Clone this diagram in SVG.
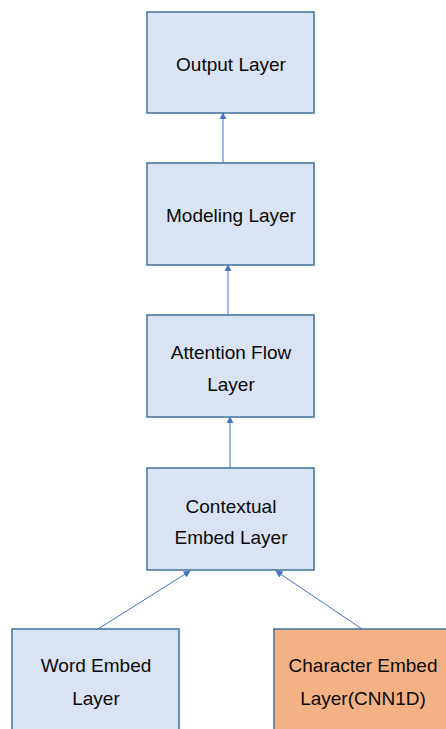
<svg xmlns="http://www.w3.org/2000/svg" width="446" height="729" viewBox="0 0 446 729">
<style>
.box{fill:#DAE3F3;stroke:#41719C;stroke-width:1.5}
.orange{fill:#F4B183;stroke:#41719C;stroke-width:1.5}
.t{font-family:"Liberation Sans",Arial,sans-serif;font-size:19px;fill:#0a0a0a;text-anchor:middle}
.c{stroke:#4472C4;stroke-width:1;fill:none;marker-end:url(#a)}
</style>
<defs>
<marker id="a" viewBox="0 0 10 10" refX="9" refY="5" markerWidth="7" markerHeight="7" markerUnits="userSpaceOnUse" orient="auto">
<path d="M0,0 L10,5 L0,10 z" fill="#4472C4"/>
</marker>
</defs>
<rect width="446" height="729" fill="#fff"/>
<g id="connectors">
<line class="c" x1="223" y1="163" x2="223" y2="113"/>
<line class="c" x1="228" y1="315" x2="228" y2="265"/>
<line class="c" x1="230" y1="468" x2="230" y2="417"/>
<line class="c" x1="98" y1="629" x2="190" y2="571"/>
<line class="c" x1="362" y1="629" x2="276" y2="571"/>
</g>
<g id="output">
<rect class="box" x="147" y="12" width="167" height="101"/>
<text class="t" x="231" y="71">Output Layer</text>
</g>
<g id="modeling">
<rect class="box" x="147" y="163" width="167" height="102"/>
<text class="t" x="231" y="222">Modeling Layer</text>
</g>
<g id="attention">
<rect class="box" x="147" y="315" width="167" height="102"/>
<text class="t" x="231" y="359">Attention Flow</text>
<text class="t" x="231" y="391">Layer</text>
</g>
<g id="contextual">
<rect class="box" x="147" y="468" width="167" height="102"/>
<text class="t" x="231" y="513">Contextual</text>
<text class="t" x="231" y="544">Embed Layer</text>
</g>
<g id="word">
<rect class="box" x="12" y="629" width="167" height="110"/>
<text class="t" x="96" y="672">Word Embed</text>
<text class="t" x="96" y="705">Layer</text>
</g>
<g id="character">
<rect class="orange" x="274" y="629" width="180" height="110"/>
<text class="t" x="363" y="672">Character Embed</text>
<text class="t" x="363" y="705">Layer(CNN1D)</text>
</g>
</svg>
